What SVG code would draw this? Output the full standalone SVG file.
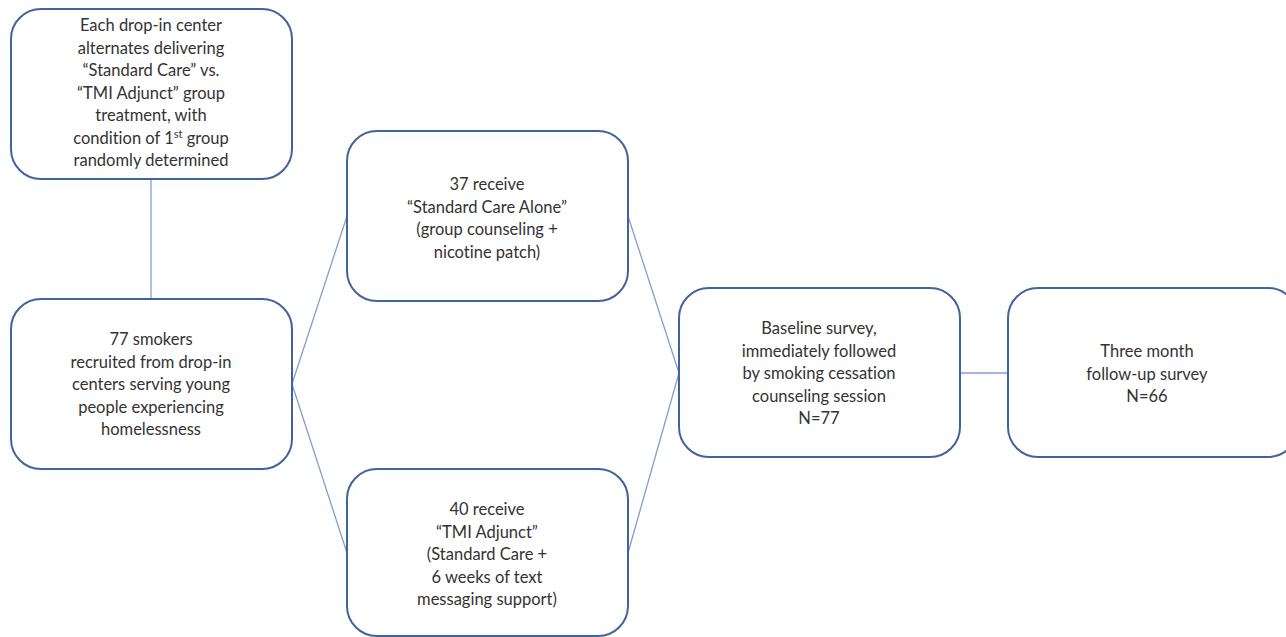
<svg xmlns="http://www.w3.org/2000/svg" width="1286" height="637" viewBox="0 0 1286 637">
<style>
.box{fill:#fff;stroke:#41639c;stroke-width:2}
.t{font-family:Lato,"Noto Sans",sans-serif;font-size:16.5px;fill:#333;text-anchor:middle;font-variant-ligatures:none}
.c{stroke:#7f9fd3;stroke-width:1.3;fill:none}
</style>
<rect width="1286" height="637" fill="#fff"/>
<g id="connectors">
<line class="c" x1="151" y1="179" x2="151" y2="299"/>
<line class="c" x1="292" y1="384" x2="347" y2="216"/>
<line class="c" x1="292" y1="384" x2="347" y2="553"/>
<line class="c" x1="628" y1="216" x2="679" y2="373"/>
<line class="c" x1="628" y1="553" x2="679" y2="373"/>
<line class="c" x1="960" y1="373" x2="1008" y2="373"/>
</g>
<g id="n1">
<rect class="box" x="11" y="9" width="281" height="170" rx="30"/>
<text class="t" y="31"><tspan x="151">Each drop-in center</tspan><tspan x="151" dy="22.5">alternates delivering</tspan><tspan x="151" dy="22.5">“Standard Care” vs.</tspan><tspan x="151" dy="22.5">“TMI Adjunct” group</tspan><tspan x="151" dy="22.5">treatment, with</tspan><tspan x="151" dy="22.5">condition of 1<tspan font-size="11" dy="-6">st</tspan><tspan dy="6"> group</tspan></tspan><tspan x="151" dy="22.5">randomly determined</tspan></text>
</g>
<g id="n2">
<rect class="box" x="11" y="299" width="281" height="170" rx="30"/>
<text class="t" y="345"><tspan x="151">77 smokers</tspan><tspan x="151" dy="22.5">recruited from drop-in</tspan><tspan x="151" dy="22.5">centers serving young</tspan><tspan x="151" dy="22.5">people experiencing</tspan><tspan x="151" dy="22.5">homelessness</tspan></text>
</g>
<g id="n3">
<rect class="box" x="347" y="131" width="281" height="170" rx="30"/>
<text class="t" y="190"><tspan x="487">37 receive</tspan><tspan x="487" dy="22.5">“Standard Care Alone”</tspan><tspan x="487" dy="22.5">(group counseling +</tspan><tspan x="487" dy="22.5">nicotine patch)</tspan></text>
</g>
<g id="n4">
<rect class="box" x="347" y="469" width="281" height="167" rx="30"/>
<text class="t" y="515"><tspan x="487">40 receive</tspan><tspan x="487" dy="22.5">“TMI Adjunct”</tspan><tspan x="487" dy="22.5">(Standard Care +</tspan><tspan x="487" dy="22.5">6 weeks of text</tspan><tspan x="487" dy="22.5">messaging support)</tspan></text>
</g>
<g id="n5">
<rect class="box" x="679" y="288" width="281" height="169" rx="30"/>
<text class="t" y="334"><tspan x="819">Baseline survey,</tspan><tspan x="819" dy="22.5">immediately followed</tspan><tspan x="819" dy="22.5">by smoking cessation</tspan><tspan x="819" dy="22.5">counseling session</tspan><tspan x="819" dy="22.5">N=77</tspan></text>
</g>
<g id="n6">
<rect class="box" x="1008" y="288" width="290" height="169" rx="30"/>
<text class="t" y="357"><tspan x="1147">Three month</tspan><tspan x="1147" dy="22.5">follow-up survey</tspan><tspan x="1147" dy="22.5">N=66</tspan></text>
</g>
</svg>
